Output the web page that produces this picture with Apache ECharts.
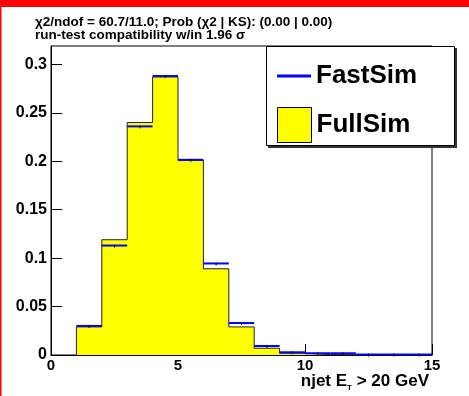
<!DOCTYPE html>
<html>
<head>
<meta charset="utf-8">
<script src="https://cdn.jsdelivr.net/npm/echarts@6/dist/echarts.min.js"></script>
<style>
html,body{margin:0;padding:0;background:#fff;}
#c{width:469px;height:396px;}
</style>
</head>
<body>
<div id="c"></div>
<script>
// Bin lower edges (bin width 1), njet ET > 20 GeV
var binLow = [1, 2, 3, 4, 5, 6, 7, 8, 9, 10, 11, 12, 13, 14];
// FullSim (yellow histogram)
var fullSim = [0.029, 0.119, 0.240, 0.287, 0.201, 0.089, 0.029, 0.007, 0.0018, 0.0004, 0.0002, 0.0001, 0, 0];
// FastSim (blue markers)
var fastSim = [0.030, 0.113, 0.236, 0.288, 0.2015, 0.0945, 0.033, 0.0093, 0.0028, 0.0018, 0.0018, 0.0005, 0.0005, 0.0005];
var xTicks = [0, 5, 10, 15];
var yTicks = [0, 0.05, 0.1, 0.15, 0.2, 0.25, 0.3];
var titleLines = ['\u03c72/ndof = 60.7/11.0; Prob (\u03c72 | KS): (0.00 | 0.00)', 'run-test compatibility w/in 1.96 \u03c3'];

var FONT = '"Liberation Sans", Arial, Helvetica, sans-serif';

// step outline data for FullSim
var stepData = [[binLow[0], 0]];
for (var i = 0; i < binLow.length; i++) stepData.push([binLow[i], fullSim[i]]);
var lastHi = binLow[binLow.length - 1] + 1;
stepData.push([lastHi, fullSim[fullSim.length - 1]]);
stepData.push([lastHi, 0]);

var fastData = binLow.map(function (lo, i) { return [lo, lo + 1, fastSim[i]]; });

var titleStyle = {fontFamily: FONT, fontSize: 13.5, fontWeight: 'bold', fill: '#000', verticalAlign: 'middle', align: 'left'};

var chart = echarts.init(document.getElementById('c'), null, {renderer: 'canvas'});
chart.setOption({
  animation: false,
  backgroundColor: '#ffffff',
  textStyle: {fontFamily: FONT},
  grid: {left: 51, top: 46, right: 37, bottom: 41, show: true, borderColor: '#000', borderWidth: 1, backgroundColor: 'transparent', containLabel: false, outerBoundsMode: 'none'},
  legend: [{
    data: [{name: 'FastSim', icon: 'rect', itemStyle: {color: '#0000ff', borderWidth: 0}}],
    left: 272, top: 58, itemWidth: 34, itemHeight: 3, itemGap: 0, selectedMode: false, z: 20,
    textStyle: {fontFamily: FONT, fontSize: 26, fontWeight: 'bold', color: '#000', padding: [5, 0, 0, 0]}
  }, {
    data: [{name: 'FullSim', icon: 'rect', itemStyle: {color: '#ffff00', borderColor: '#000', borderWidth: 1}}],
    left: 272, top: 102, itemWidth: 34, itemHeight: 35, itemGap: 0, selectedMode: false, z: 20,
    textStyle: {fontFamily: FONT, fontSize: 26, fontWeight: 'bold', color: '#000'}
  }],
  xAxis: {
    type: 'value', min: 0, max: 15, interval: 5,
    axisLine: {show: true, onZero: false, lineStyle: {color: '#000', width: 1}},
    axisTick: {show: true, inside: true, length: 11, lineStyle: {color: '#000'}},
    axisLabel: {show: true, margin: 3, fontFamily: FONT, fontSize: 15, fontWeight: 'bold', color: '#000',
      formatter: function (v) { return xTicks.indexOf(v) >= 0 ? String(v) : ''; }},
    splitLine: {show: false}
  },
  yAxis: {
    type: 'value', min: 0, max: 0.319, interval: 0.05,
    axisLine: {show: true, lineStyle: {color: '#000', width: 1}},
    axisTick: {show: true, inside: true, length: 11, lineStyle: {color: '#000'}},
    axisLabel: {show: true, margin: 4, showMaxLabel: false, fontFamily: FONT, fontSize: 16, fontWeight: 'bold', color: '#000',
      formatter: function (v) {
        for (var k = 0; k < yTicks.length; k++) if (Math.abs(yTicks[k] - v) < 1e-9) return String(yTicks[k]);
        return '';
      }},
    splitLine: {show: false}
  },
  series: [{
    name: 'FullSim', type: 'line', step: 'end', data: stepData, symbol: 'none', z: 2,
    itemStyle: {color: '#ffff00'},
    lineStyle: {color: '#222', width: 1},
    areaStyle: {color: '#ffff00', opacity: 1}
  }, {
    name: 'FastSim', type: 'custom', data: fastData, z: 3,
    itemStyle: {color: '#0000ff'},
    encode: {x: [0, 1], y: 2},
    renderItem: function (params, api) {
      var p1 = api.coord([api.value(0), api.value(2)]);
      var p2 = api.coord([api.value(1), api.value(2)]);
      var cx = (p1[0] + p2[0]) / 2;
      return {type: 'group', children: [
        {type: 'line', shape: {x1: p1[0], y1: p1[1], x2: p2[0], y2: p2[1]}, style: {stroke: '#0000ff', lineWidth: 2}},
        {type: 'line', shape: {x1: cx, y1: p1[1] - 1, x2: cx, y2: p1[1] + 2}, style: {stroke: '#000', lineWidth: 1}}
      ]};
    }
  }],
  graphic: [
    {type: 'rect', shape: {x: 0, y: 0, width: 469, height: 7}, style: {fill: '#ff0000'}, z: 100, silent: true},
    {type: 'rect', shape: {x: 0, y: 0, width: 1.5, height: 396}, style: {fill: '#ff0000'}, z: 100, silent: true},
    {type: 'text', x: 35, y: 22, z: 12, silent: true, style: Object.assign({text: titleLines[0]}, titleStyle)},
    {type: 'text', x: 35, y: 35.5, z: 12, silent: true, style: Object.assign({text: titleLines[1]}, titleStyle)},
    {type: 'rect', shape: {x: 268, y: 48, width: 189, height: 100}, style: {fill: '#333'}, z: 10, silent: true},
    {type: 'rect', shape: {x: 266.5, y: 46.5, width: 188, height: 99}, style: {fill: '#fff', stroke: '#000', lineWidth: 1}, z: 11, silent: true},
    {type: 'text', right: 469 - 429, top: 373, z: 12, silent: true,
      style: {
        text: '{n|njet E}{s|T}{n| > 20 GeV}',
        fill: '#000',
        rich: {
          n: {fontFamily: FONT, fontSize: 17, fontWeight: 'bold', lineHeight: 20, verticalAlign: 'middle', fill: '#000'},
          s: {fontFamily: FONT, fontSize: 8, fontWeight: 'bold', lineHeight: 8, verticalAlign: 'bottom', fill: '#000'}
        }
      }}
  ]
});
</script>
</body>
</html>
